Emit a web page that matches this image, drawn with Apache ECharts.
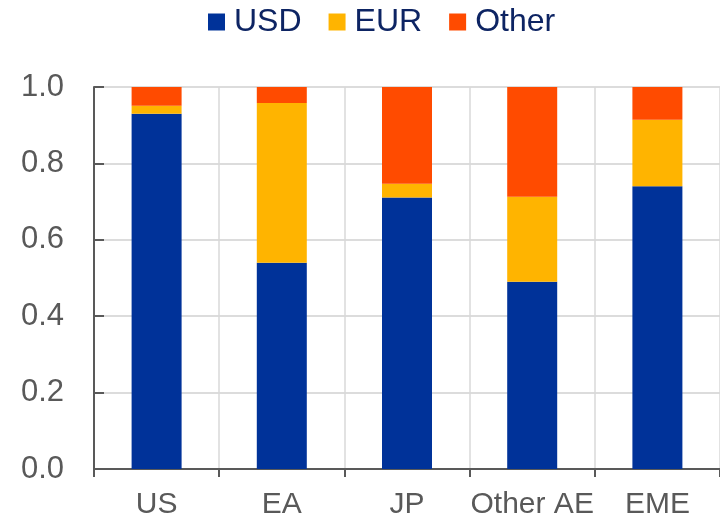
<!DOCTYPE html>
<html>
<head>
<meta charset="utf-8">
<script src="https://cdn.jsdelivr.net/npm/echarts@6/dist/echarts.min.js"></script>
<style>
  html, body { margin: 0; padding: 0; background: #fff; }
  #chart { width: 720px; height: 520px; }
</style>
</head>
<body>
<div id="chart"></div>
<script>
// Currency shares of each region
var categories = ['US', 'EA', 'JP', 'Other AE', 'EME'];
var usd   = [0.930, 0.540, 0.711, 0.490, 0.740];
var eur   = [0.021, 0.418, 0.036, 0.223, 0.174];
var other = [0.049, 0.042, 0.253, 0.287, 0.086];
var yTicks = [0, 0.2, 0.4, 0.6, 0.8, 1.0];

var colors = { USD: '#003299', EUR: '#FFB400', Other: '#FF4B00' };
var font = '"Liberation Sans", Arial, sans-serif';

function barSeries(name, data) {
  return {
    name: name,
    type: 'bar',
    stack: 'total',
    data: data,
    barWidth: 50,
    itemStyle: { color: colors[name] }
  };
}

var chart = echarts.init(document.getElementById('chart'), null, { renderer: 'canvas' });
chart.setOption({
  animation: false,
  legend: {
    top: 1,
    left: 203,
    itemWidth: 17,
    itemHeight: 17,
    itemGap: 27,
    icon: 'rect',
    textStyle: { fontFamily: font, fontSize: 32, color: '#0d2463', padding: [0, 0, 0, 4] },
    data: ['USD', 'EUR', 'Other']
  },
  grid: { left: 94, right: 0, top: 87, bottom: 51, containLabel: false },
  xAxis: {
    type: 'category',
    data: categories,
    boundaryGap: true,
    axisLine: { lineStyle: { color: '#595959', width: 2 } },
    axisTick: { show: true, length: 8, interval: 0, lineStyle: { color: '#595959', width: 2 } },
    axisLabel: { fontFamily: font, fontSize: 30, color: '#595959', margin: 21, interval: 0 },
    splitLine: { show: true, interval: 0, lineStyle: { color: '#d9d9d9', width: 1.5 } }
  },
  yAxis: {
    type: 'value',
    min: 0,
    max: 1,
    interval: 0.2,
    axisLine: { show: true, lineStyle: { color: '#595959', width: 2 } },
    axisTick: { show: true, inside: true, length: 10, lineStyle: { color: '#595959', width: 2 } },
    axisLabel: {
      fontFamily: font, fontSize: 31, color: '#595959', margin: 30,
      formatter: function (v) {
        var t = yTicks.find(function (k) { return Math.abs(k - v) < 1e-9; });
        return t === undefined ? '' : t.toFixed(1);
      }
    },
    splitLine: { show: true, lineStyle: { color: '#d0d0d0', width: 1.5 } }
  },
  series: [
    barSeries('USD', usd),
    barSeries('EUR', eur),
    barSeries('Other', other)
  ]
});
</script>
</body>
</html>
